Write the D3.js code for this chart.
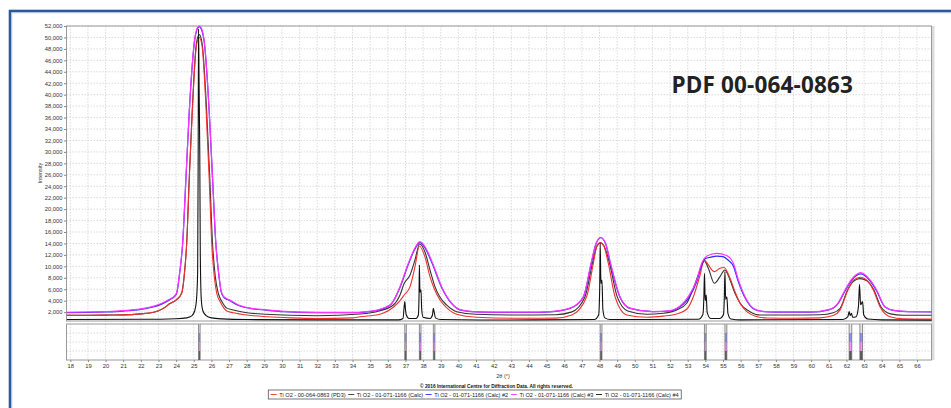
<!DOCTYPE html>
<html>
<head>
<meta charset="utf-8">
<script src="https://cdn.jsdelivr.net/npm/d3@7"></script>
<style>
body { margin: 0; background: #fff; }
svg { display: block; font-family: "Liberation Sans", Arial, sans-serif; }
</style>
</head>
<body>
<div id="chart"></div>
<script>
// --- data (2-theta, intensity) ---
const pd3Red = [[17.8,1450],[19,1460],[20,1480],[21,1520],[22,1700],[22.5,1850],[23,2250],[23.3,2700],[23.65,3500],[24.03,4200],[24.32,5300],[24.45,8000],[24.6,14000],[24.75,25600],[24.92,37300],[25.15,48500],[25.31,50000],[25.47,48500],[25.7,37300],[25.87,25600],[26.02,14000],[26.17,8000],[26.3,5300],[26.5,3800],[26.87,2200],[27.24,1900],[28,1500],[29.13,1200],[30.5,1000],[32,900],[34,1000],[34.42,1200],[35.5,1600],[36.31,2850],[36.69,4000],[36.93,5000],[37.26,6450],[37.54,9940],[37.79,13560],[38.1,11690],[38.39,8200],[38.62,6170],[38.96,4120],[39.33,2780],[39.9,1620],[41.04,1100],[43.5,920],[45.5,950],[46.43,1500],[47.27,4700],[47.65,10530],[47.85,13500],[48.05,14150],[48.25,13500],[48.5,10530],[48.88,4700],[49.54,1500],[50.7,1100],[51.6,1300],[52.38,1680],[52.94,2500],[53.32,4700],[53.7,8490],[53.94,11110],[54.17,10240],[54.51,9070],[54.83,9660],[55.06,9800],[55.4,7910],[55.68,5580],[55.97,3550],[56.35,2080],[56.8,1330],[57.5,980],[59,920],[60.5,1000],[61.25,1400],[61.64,2400],[62.08,5870],[62.4,7600],[62.8,8090],[63.15,7600],[63.52,5870],[63.9,2950],[64.47,1200],[65.2,850],[66.85,800]]

const calcGray = [[17.8,1450],[19,1460],[20,1480],[21,1520],[22,1700],[22.5,1850],[23,2250],[23.3,2700],[23.65,3500],[24.03,4200],[24.32,5400],[24.45,8200],[24.6,14200],[24.75,26000],[24.92,37800],[25.15,49000],[25.31,50500],[25.47,49000],[25.72,37800],[25.9,26000],[26.06,14200],[26.22,8200],[26.39,5300],[26.6,3800],[26.87,2700],[27.24,2380],[28,1900],[29.13,1620],[30.5,1450],[32,1380],[34.42,1680],[35.5,2200],[36.31,3250],[36.69,5000],[36.93,7040],[37.26,8490],[37.54,11110],[37.8,13900],[38.1,12560],[38.39,9360],[38.67,6450],[38.96,4590],[39.33,3250],[39.9,2080],[41,1620],[43.5,1500],[45.5,1550],[46.4,2000],[47.18,4700],[47.6,10530],[47.85,13500],[48.05,14100],[48.25,13600],[48.57,10530],[49.0,4700],[49.6,2200],[50.68,1620],[51.6,1800],[52.38,2380],[52.94,3550],[53.32,6170],[53.7,9360],[53.94,11000],[54.17,9660],[54.51,7050],[54.83,8200],[55.1,9360],[55.4,7620],[55.68,5290],[55.97,3550],[56.53,2080],[57.1,1500],[59,1500],[60.5,1550],[61.25,1900],[61.64,2670],[62.05,5800],[62.4,7400],[62.75,7850],[63.15,7500],[63.55,5900],[63.95,2950],[64.5,1700],[65.2,1450],[66.85,1450]]

const calcBlue = [[17.8,1900],[19,1950],[20,2030],[21,2180],[22,2480],[22.7,2900],[23.2,3450],[23.6,4100],[23.9,4700],[24.03,5300],[24.2,8800],[24.37,14000],[24.56,25600],[24.75,37300],[25.03,49000],[25.2,51500],[25.31,51900],[25.42,51500],[25.6,49000],[25.87,37300],[26.06,25600],[26.25,14000],[26.42,8500],[26.55,5600],[26.7,4600],[27.05,4000],[27.5,3200],[28.2,2650],[29.1,2350],[30.1,2080],[32,1900],[34,1900],[34.8,2050],[35.4,2300],[35.84,2750],[36.22,3500],[36.69,6300],[37.16,10300],[37.5,12800],[37.82,14130],[38.15,13000],[38.54,10300],[39.05,6300],[39.62,3500],[40.09,2400],[40.8,2080],[42,1950],[44,1950],[45.2,2050],[46.33,2650],[47.08,4600],[47.52,10300],[47.8,13900],[48.07,15000],[48.35,13900],[48.63,10300],[49.16,4600],[49.73,2650],[51,2080],[52,2200],[52.38,2600],[53.03,4400],[53.51,7300],[53.79,10200],[54.0,11350],[54.3,11600],[54.64,11800],[55.0,11700],[55.25,11200],[55.59,10000],[55.87,7300],[56.25,4500],[56.72,2600],[57.2,2150],[58,2000],[60,2000],[61,2400],[61.5,3400],[61.92,5700],[62.3,7600],[62.81,8670],[63.3,7600],[63.71,5700],[64.18,2900],[64.75,2250],[65.5,2080],[66.85,2050]]

const calcMagenta = [[17.8,1980],[19,2020],[20,2100],[21,2250],[22,2560],[22.7,3000],[23.2,3550],[23.6,4200],[23.9,4800],[24.03,5400],[24.2,8900],[24.37,14100],[24.56,25700],[24.75,37400],[25.03,49200],[25.2,51700],[25.31,52000],[25.42,51700],[25.6,49200],[25.87,37400],[26.06,25700],[26.25,14100],[26.42,8600],[26.55,5700],[26.7,4700],[27.05,4100],[27.5,3300],[28.2,2700],[29.1,2400],[30.1,2120],[32,1950],[34,1950],[34.8,2100],[35.4,2350],[35.84,2800],[36.22,3550],[36.69,6450],[37.16,10530],[37.5,13000],[37.82,14310],[38.15,13200],[38.54,10530],[39.05,6450],[39.62,3550],[40.09,2450],[40.8,2100],[42,2000],[44,2000],[45.2,2100],[46.33,2700],[47.08,4700],[47.52,10530],[47.8,14000],[48.07,15080],[48.35,14000],[48.63,10530],[49.16,4700],[49.73,2700],[51,2100],[52,2250],[52.38,2670],[53.03,4700],[53.51,7620],[53.79,10530],[54.1,11800],[54.64,12280],[55.2,11900],[55.59,10530],[55.87,7620],[56.25,4700],[56.72,2670],[57.2,2150],[58,2050],[60,2050],[61,2450],[61.5,3500],[61.92,5870],[62.3,7750],[62.81,8890],[63.3,7750],[63.71,5870],[64.18,2950],[64.75,2250],[65.5,2100],[66.85,2080]]

const calcSharp = [[17.8,720],[22,750],[24,850],[24.6,1000],[24.9,1400],[25.05,2200],[25.15,4000],[25.22,9000],[25.25,30000],[25.27,51500],[25.3,42000],[25.34,30000],[25.37,12000],[25.43,4000],[25.52,2200],[25.7,1400],[26,1000],[26.6,820],[28,700],[32,650],[36.6,650],[36.86,900],[36.96,3830],[37.0,2500],[37.05,1500],[37.2,900],[37.6,900],[37.73,1500],[37.77,5000],[37.79,10240],[37.82,5500],[37.88,5900],[37.92,2500],[38.0,1100],[38.4,900],[38.53,1500],[38.58,2670],[38.63,2000],[38.7,1000],[39.0,700],[42,630],[47.7,700],[47.95,1500],[48.01,6000],[48.04,14030],[48.08,7000],[48.14,7600],[48.19,2500],[48.3,1000],[48.6,700],[53.6,750],[53.86,1600],[53.92,5000],[53.95,8790],[53.99,4000],[54.05,5000],[54.1,2000],[54.3,900],[54.8,900],[55.03,1600],[55.08,5000],[55.11,9070],[55.15,4200],[55.22,4700],[55.28,1800],[55.45,800],[56,650],[61.8,700],[62.08,1200],[62.15,2080],[62.21,1400],[62.28,1800],[62.35,1100],[62.55,1200],[62.68,3000],[62.74,6870],[62.8,3300],[62.91,3830],[62.98,1500],[63.2,800],[64,650],[66.85,600]]

// stick pattern lines (doublet positions)
const stickA1 = [25.27, 36.96, 37.79, 38.58, 48.04, 53.95, 55.11, 62.15, 62.76]
const stickA2 = [25.36, 37.05, 37.88, 38.67, 48.14, 54.05, 55.22, 62.30, 62.91]

const xTicks = d3.range(18, 67, 1)
const yTicks = d3.range(2000, 52001, 2000)

const legendLabels = [
    'Ti O2 - 00-064-0863 (PD3)',
    'Ti O2 - 01-071-1166 (Calc)',
    'Ti O2 - 01-071-1166 (Calc) #2',
    'Ti O2 - 01-071-1166 (Calc) #3',
    'Ti O2 - 01-071-1166 (Calc) #4'
]
const legendColors = ['#f03030', '#333333', '#2a2aff', '#ff33ff', '#111111']

// --- layout ---
const W = 951, H = 408
const plot = { left: 66.5, right: 931.5, top: 26, bottom: 321 }
const stick = { top: 324, bottom: 360 }

const x = d3.scaleLinear().domain([17.785, 66.82]).range([plot.left, plot.right])
const y = d3.scaleLinear().domain([450, 52000]).range([plot.bottom, plot.top])

const svg = d3.select('#chart').append('svg')
    .attr('width', W)
    .attr('height', H)

// blue frame (only top/left visible)
svg.append('rect')
    .attr('x', 10).attr('y', 11)
    .attr('width', 1000).attr('height', 500)
    .attr('fill', 'none')
    .attr('stroke', '#2b579c')
    .attr('stroke-width', 2.6)
svg.append('rect')
    .attr('x', 11.8).attr('y', 12.8)
    .attr('width', 1000).attr('height', 500)
    .attr('fill', 'none')
    .attr('stroke', '#a9bddf')
    .attr('stroke-width', 0.8)

// right-hand shade strip
svg.append('rect')
    .attr('x', plot.right).attr('y', plot.top)
    .attr('width', 3).attr('height', stick.bottom - plot.top)
    .attr('fill', '#dcdcdc')

// grids
const grid = svg.append('g')
    .attr('stroke', '#d2d2d2')
    .attr('stroke-width', 0.8)
    .attr('stroke-dasharray', '1.5,1.5')

grid.selectAll('.vgrid')
    .data(xTicks)
    .enter().append('line')
    .attr('x1', d => x(d)).attr('x2', d => x(d))
    .attr('y1', plot.top).attr('y2', plot.bottom)

grid.selectAll('.vgrid2')
    .data(xTicks)
    .enter().append('line')
    .attr('x1', d => x(d)).attr('x2', d => x(d))
    .attr('y1', stick.top).attr('y2', stick.bottom)

grid.selectAll('.hgrid')
    .data(yTicks)
    .enter().append('line')
    .attr('x1', plot.left).attr('x2', plot.right)
    .attr('y1', d => y(d)).attr('y2', d => y(d))

const rowH = (stick.bottom - stick.top) / 4
grid.selectAll('.sgrid')
    .data([1, 2, 3])
    .enter().append('line')
    .attr('x1', plot.left).attr('x2', plot.right)
    .attr('y1', d => stick.top + d * rowH).attr('y2', d => stick.top + d * rowH)

// panel borders
svg.append('rect')
    .attr('x', plot.left).attr('y', plot.top)
    .attr('width', plot.right - plot.left).attr('height', plot.bottom - plot.top)
    .attr('fill', 'none').attr('stroke', '#9a9a9a').attr('stroke-width', 1)
svg.append('rect')
    .attr('x', plot.left).attr('y', stick.top)
    .attr('width', plot.right - plot.left).attr('height', stick.bottom - stick.top)
    .attr('fill', 'none').attr('stroke', '#9a9a9a').attr('stroke-width', 1)

// curves
svg.append('clipPath').attr('id', 'clip')
    .append('rect')
    .attr('x', plot.left).attr('y', plot.top - 2)
    .attr('width', plot.right - plot.left).attr('height', plot.bottom - plot.top + 2)

const line = d3.line()
    .x(d => x(d[0]))
    .y(d => y(d[1]))
    .curve(d3.curveMonotoneX)

const series = [
    { data: calcGray, color: legendColors[1], w: 1.1 },
    { data: pd3Red, color: legendColors[0], w: 1.1 },
    { data: calcBlue, color: legendColors[2], w: 1.2 },
    { data: calcMagenta, color: legendColors[3], w: 1.2 },
    { data: calcSharp, color: legendColors[4], w: 1.1 }
]

svg.append('g')
    .attr('clip-path', 'url(#clip)')
    .selectAll('path')
    .data(series)
    .enter().append('path')
    .attr('d', d => line(d.data))
    .attr('fill', 'none')
    .attr('stroke', d => d.color)
    .attr('stroke-width', d => d.w)
    .attr('stroke-linejoin', 'round')

// stick panel
const rowFill = ['#e6e6e6', '#8f8fff', '#ff8fff', '#5a5a5a']
const sticks = svg.append('g')
stickA1.forEach((p, i) => {
    const x1 = x(p), x2 = x(stickA2[i])
    rowFill.forEach((c, r) => {
        sticks.append('rect')
            .attr('x', x1).attr('y', stick.top + r * rowH)
            .attr('width', x2 - x1).attr('height', rowH)
            .attr('fill', c)
    })
    sticks.selectAll(null)
        .data([x1, x2])
        .enter().append('line')
        .attr('x1', d => d).attr('x2', d => d)
        .attr('y1', stick.top).attr('y2', stick.bottom)
        .attr('stroke', '#666')
        .attr('stroke-width', 0.7)
})

// axes
const yAxis = d3.axisLeft(y)
    .tickValues(yTicks)
    .tickSize(2.5)
    .tickPadding(1.5)
    .tickFormat(d3.format(','))

svg.append('g')
    .attr('transform', `translate(${plot.left},0)`)
    .call(yAxis)
    .call(g => g.select('.domain').remove())
    .call(g => g.selectAll('line').attr('stroke', '#888'))
    .call(g => g.selectAll('text')
        .attr('font-family', '"Liberation Sans", Arial, sans-serif')
        .attr('font-size', 5.8).attr('fill', '#333'))

const xAxis = d3.axisBottom(x)
    .tickValues(xTicks)
    .tickSize(2)
    .tickPadding(2)
    .tickFormat(d3.format('d'))

svg.append('g')
    .attr('transform', `translate(0,${stick.bottom})`)
    .call(xAxis)
    .call(g => g.select('.domain').remove())
    .call(g => g.selectAll('line').attr('stroke', '#888'))
    .call(g => g.selectAll('text')
        .attr('font-family', '"Liberation Sans", Arial, sans-serif')
        .attr('font-size', 5.8).attr('fill', '#333'))

// axis titles
svg.append('text')
    .attr('transform', 'translate(42,173) rotate(-90)')
    .attr('text-anchor', 'middle')
    .attr('font-size', 5.5)
    .attr('fill', '#333')
    .text('Intensity')

svg.append('text')
    .attr('x', 503).attr('y', 377.5)
    .attr('text-anchor', 'middle')
    .attr('font-size', 5.5)
    .attr('fill', '#333')
    .text('2θ (°)')

// big label
svg.append('text')
    .attr('x', 671.5).attr('y', 92.7)
    .attr('font-family', '"Open Sans", sans-serif')
    .attr('font-weight', 700)
    .attr('font-size', 22.5)
    .attr('letter-spacing', 0.15)
    .attr('fill', '#222')
    .text('PDF 00-064-0863')

// copyright
svg.append('text')
    .attr('x', 496.5).attr('y', 387.5)
    .attr('text-anchor', 'middle')
    .attr('font-weight', 700)
    .attr('font-size', 4.8)
    .attr('fill', '#111')
    .text('© 2016 International Centre for Diffraction Data. All rights reserved.')

// legend
const legend = svg.append('g')
const legendY = 394.5
let lx = 270.7
legendLabels.forEach((lab, i) => {
    legend.append('line')
        .attr('x1', lx).attr('x2', lx + 6)
        .attr('y1', legendY).attr('y2', legendY)
        .attr('stroke', legendColors[i])
        .attr('stroke-width', 0.9)
    const t = legend.append('text')
        .attr('x', lx + 8.6).attr('y', legendY + 2)
        .attr('font-size', 5.6)
        .attr('fill', '#222')
        .text(lab)
    lx = lx + 8.6 + t.node().getComputedTextLength() + 2.6
})
legend.insert('rect', ':first-child')
    .attr('x', 268.3).attr('y', 390)
    .attr('width', lx - 268.3).attr('height', 9)
    .attr('fill', '#fff')
    .attr('stroke', '#555')
    .attr('stroke-width', 0.8)
</script>
</body>
</html>
